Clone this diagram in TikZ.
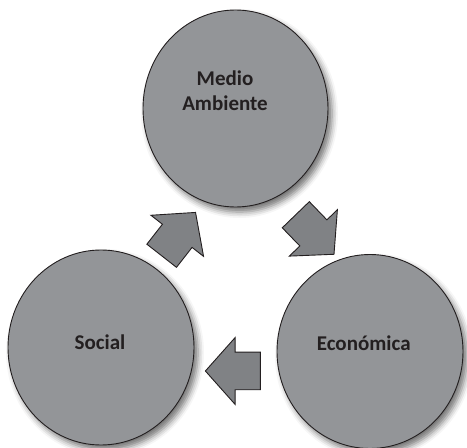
\documentclass[tikz,border=0pt]{standalone}
\usepackage{fontspec}
\setmainfont{Carlito}
\usetikzlibrary{shapes.geometric,shadows.blur}
\definecolor{circfill}{RGB}{147,149,152}
\definecolor{arrfill}{RGB}{128,130,133}
\definecolor{inkc}{RGB}{35,31,32}
\tikzset{
  circ/.style={ellipse, draw=inkc, line width=0.9pt, fill=circfill, inner sep=0pt,
    blur shadow={shadow xshift=4pt, shadow yshift=-5pt, shadow blur radius=6pt, shadow opacity=55}},
  lbl/.style={text=inkc, font=\fontsize{21}{25}\selectfont\bfseries, align=center},
  blockarr/.style={draw=inkc, line width=0.9pt, fill=arrfill, line join=miter}
}
\begin{document}
\begin{tikzpicture}[x=1pt,y=1pt]
\useasboundingbox (0,0) rectangle (467,448);
\node[circ, minimum width=185pt, minimum height=197pt] (top) at (235.5,339.5) {};
\node[circ, minimum width=186pt, minimum height=195pt] (left) at (101,100.5) {};
\node[circ, minimum width=186pt, minimum height=194pt] (right) at (370,96.5) {};
\node[lbl] (ttop) at (225,357.5) {Medio\\Ambiente};
\node[lbl] (tleft) at (100,105.3) {Social};
\node[lbl] (tright) at (363.7,105) {Económica};
\foreach \cx/\cy/\ang in {178.6/213.9/52, 314.9/213.5/-46, 232.9/77/180}{
  \begin{scope}[shift={(\cx,\cy)}, rotate=\ang]
    \draw[blockarr] (-27.5,18.8) -- (-2.2,18.8) -- (-2.2,33.4) -- (27.5,0)
      -- (-2.2,-33.4) -- (-2.2,-18.8) -- (-27.5,-18.8) -- cycle;
  \end{scope}
}
\end{tikzpicture}
\end{document}
